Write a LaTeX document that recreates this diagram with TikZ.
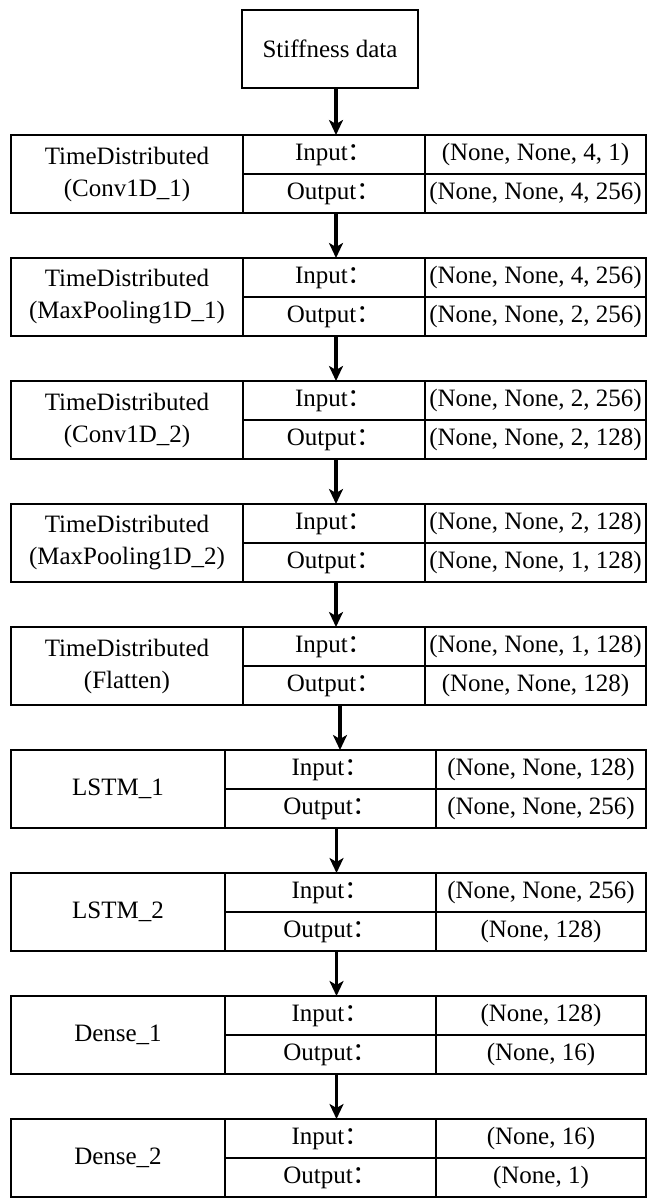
\documentclass[tikz,border=0pt]{standalone}
\usepackage{fontspec}
\setmainfont{Liberation Serif}
\newfontfamily\cjk{Noto Sans CJK SC}
\usetikzlibrary{positioning,arrows.meta}
\newcommand{\colonfw}{{\cjk ：}}
\tikzstyle{cell}=[rectangle, draw=black, line width=2.6pt, inner sep=0pt, outer sep=0pt, align=center, font=\fontsize{25}{32}\selectfont]
\tikzstyle{stiffbox}=[cell, minimum width=176pt, minimum height=78pt]
\tikzstyle{namecell}=[cell, minimum width=232pt, minimum height=78pt]
\tikzstyle{iocell}=[cell, minimum width=182pt, minimum height=39pt]
\tikzstyle{valcell}=[cell, minimum width=221pt, minimum height=39pt]
\tikzstyle{namecellB}=[cell, minimum width=214pt, minimum height=78pt]
\tikzstyle{iocellB}=[cell, minimum width=211pt, minimum height=39pt]
\tikzstyle{valcellB}=[cell, minimum width=210pt, minimum height=39pt]
\tikzstyle{downarrow}=[line width=3.2pt, -{Stealth[length=15pt,width=14pt,inset=4pt]}]
\begin{document}
\begin{tikzpicture}[x=1pt, y=1pt]
	\useasboundingbox (0,0) rectangle (646,-1198);
	\node (stiffness data) [stiffbox] at (330,-49) {Stiffness data};
	
	% TimeDistributed layers
	\node (conv1 name) [namecell, anchor=north west] at (11,-135) {TimeDistributed\\(Conv1D\_1)};
	\node (conv1 in) [iocell, anchor=north west] at (conv1 name.north east) {Input\colonfw};
	\node (conv1 out) [iocell, below=0pt of conv1 in] {Output\colonfw};
	\node (conv1 inval) [valcell, right=0pt of conv1 in] {(None, None, 4, 1)};
	\node (conv1 outval) [valcell, right=0pt of conv1 out] {(None, None, 4, 256)};
	
	\node (pool1 name) [namecell, below=45pt of conv1 name] {TimeDistributed\\(MaxPooling1D\_1)};
	\node (pool1 in) [iocell, anchor=north west] at (pool1 name.north east) {Input\colonfw};
	\node (pool1 out) [iocell, below=0pt of pool1 in] {Output\colonfw};
	\node (pool1 inval) [valcell, right=0pt of pool1 in] {(None, None, 4, 256)};
	\node (pool1 outval) [valcell, right=0pt of pool1 out] {(None, None, 2, 256)};
	
	\node (conv2 name) [namecell, below=45pt of pool1 name] {TimeDistributed\\(Conv1D\_2)};
	\node (conv2 in) [iocell, anchor=north west] at (conv2 name.north east) {Input\colonfw};
	\node (conv2 out) [iocell, below=0pt of conv2 in] {Output\colonfw};
	\node (conv2 inval) [valcell, right=0pt of conv2 in] {(None, None, 2, 256)};
	\node (conv2 outval) [valcell, right=0pt of conv2 out] {(None, None, 2, 128)};
	
	\node (pool2 name) [namecell, below=45pt of conv2 name] {TimeDistributed\\(MaxPooling1D\_2)};
	\node (pool2 in) [iocell, anchor=north west] at (pool2 name.north east) {Input\colonfw};
	\node (pool2 out) [iocell, below=0pt of pool2 in] {Output\colonfw};
	\node (pool2 inval) [valcell, right=0pt of pool2 in] {(None, None, 2, 128)};
	\node (pool2 outval) [valcell, right=0pt of pool2 out] {(None, None, 1, 128)};
	
	\node (flatten name) [namecell, below=45pt of pool2 name] {TimeDistributed\\(Flatten)};
	\node (flatten in) [iocell, anchor=north west] at (flatten name.north east) {Input\colonfw};
	\node (flatten out) [iocell, below=0pt of flatten in] {Output\colonfw};
	\node (flatten inval) [valcell, right=0pt of flatten in] {(None, None, 1, 128)};
	\node (flatten outval) [valcell, right=0pt of flatten out] {(None, None, 128)};
	
	% LSTM and Dense layers
	\node (lstm1 name) [namecellB, below=45pt of flatten name.south west, anchor=north west] {LSTM\_1};
	\node (lstm1 in) [iocellB, anchor=north west] at (lstm1 name.north east) {Input\colonfw};
	\node (lstm1 out) [iocellB, below=0pt of lstm1 in] {Output\colonfw};
	\node (lstm1 inval) [valcellB, right=0pt of lstm1 in] {(None, None, 128)};
	\node (lstm1 outval) [valcellB, right=0pt of lstm1 out] {(None, None, 256)};
	
	\node (lstm2 name) [namecellB, below=45pt of lstm1 name] {LSTM\_2};
	\node (lstm2 in) [iocellB, anchor=north west] at (lstm2 name.north east) {Input\colonfw};
	\node (lstm2 out) [iocellB, below=0pt of lstm2 in] {Output\colonfw};
	\node (lstm2 inval) [valcellB, right=0pt of lstm2 in] {(None, None, 256)};
	\node (lstm2 outval) [valcellB, right=0pt of lstm2 out] {(None, 128)};
	
	\node (dense1 name) [namecellB, below=45pt of lstm2 name] {Dense\_1};
	\node (dense1 in) [iocellB, anchor=north west] at (dense1 name.north east) {Input\colonfw};
	\node (dense1 out) [iocellB, below=0pt of dense1 in] {Output\colonfw};
	\node (dense1 inval) [valcellB, right=0pt of dense1 in] {(None, 128)};
	\node (dense1 outval) [valcellB, right=0pt of dense1 out] {(None, 16)};
	
	\node (dense2 name) [namecellB, below=45pt of dense1 name] {Dense\_2};
	\node (dense2 in) [iocellB, anchor=north west] at (dense2 name.north east) {Input\colonfw};
	\node (dense2 out) [iocellB, below=0pt of dense2 in] {Output\colonfw};
	\node (dense2 inval) [valcellB, right=0pt of dense2 in] {(None, 16)};
	\node (dense2 outval) [valcellB, right=0pt of dense2 out] {(None, 1)};
	
	\draw [downarrow] ([xshift=6pt]stiffness data.south) -- ([xshift=6pt]stiffness data.south |- conv1 in.north);
	\draw [downarrow] ([xshift=2pt]conv1 out.south) -- ([xshift=2pt]conv1 out.south |- pool1 in.north);
	\draw [downarrow] ([xshift=2pt]pool1 out.south) -- ([xshift=2pt]pool1 out.south |- conv2 in.north);
	\draw [downarrow] ([xshift=2pt]conv2 out.south) -- ([xshift=2pt]conv2 out.south |- pool2 in.north);
	\draw [downarrow] ([xshift=2pt]pool2 out.south) -- ([xshift=2pt]pool2 out.south |- flatten in.north);
	\draw [downarrow] ([xshift=6pt]flatten out.south) -- ([xshift=6pt]flatten out.south |- lstm1 in.north);
	\draw [downarrow] ([xshift=6pt]lstm1 out.south) -- ([xshift=6pt]lstm1 out.south |- lstm2 in.north);
	\draw [downarrow] ([xshift=6pt]lstm2 out.south) -- ([xshift=6pt]lstm2 out.south |- dense1 in.north);
	\draw [downarrow] ([xshift=6pt]dense1 out.south) -- ([xshift=6pt]dense1 out.south |- dense2 in.north);
\end{tikzpicture}
\end{document}
